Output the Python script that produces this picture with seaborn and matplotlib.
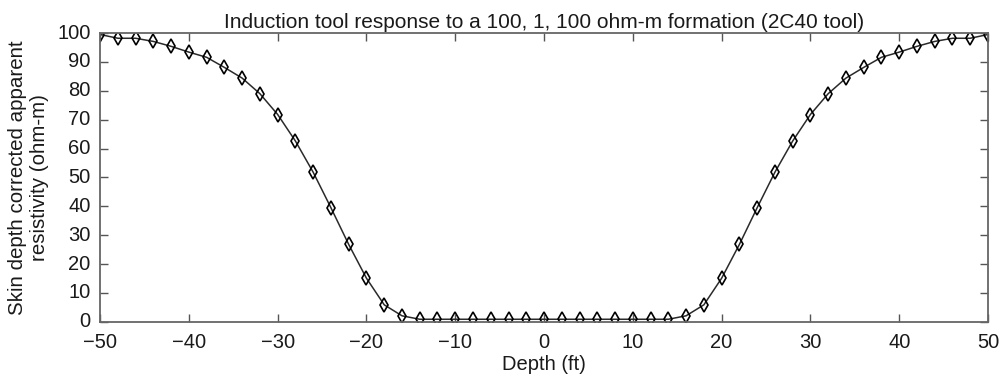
import matplotlib
matplotlib.use("Agg")
import matplotlib.pyplot as plt
import matplotlib.transforms as mtransforms
import numpy as np
import pandas as pd
import seaborn as sns

# depth samples every 2 ft
depth = [-50, -48, -46, -44, -42, -40, -38, -36, -34, -32, -30, -28, -26, -24, -22,
         -20, -18, -16, -14, -12, -10, -8, -6, -4, -2, 0, 2, 4, 6, 8, 10, 12, 14,
         16, 18, 20, 22, 24, 26, 28, 30, 32, 34, 36, 38, 40, 42, 44, 46, 48, 50]
resistivity = [99.5, 98.2, 98.2, 97.1, 95.4, 93.4, 91.6, 88.1, 84.4, 79.0, 71.8, 62.6,
               51.8, 39.5, 26.8, 15.1, 5.9, 2.1, 0.9, 0.9, 0.9, 0.9, 0.9, 0.9, 0.9,
               0.9, 0.9, 0.9, 0.9, 0.9, 0.9, 0.9, 0.9, 2.1, 5.9, 15.1, 26.8, 39.5,
               51.8, 62.6, 71.8, 79.0, 84.4, 88.1, 91.6, 93.4, 95.4, 97.1, 98.2, 98.2, 99.5]
xticks = [-50, -40, -30, -20, -10, 0, 10, 20, 30, 40, 50]
yticks = [0, 10, 20, 30, 40, 50, 60, 70, 80, 90, 100]

df = pd.DataFrame({"depth": depth, "res": resistivity})

sns.set_style("ticks")
plt.rcParams["font.family"] = ["Liberation Sans", "DejaVu Sans"]

fig, ax = plt.subplots(figsize=(10.01, 3.8), dpi=100)
sns.lineplot(data=df, x="depth", y="res", ax=ax, color="#2a2a2a", linewidth=1.1,
             marker="d", markersize=7, markerfacecolor="none",
             markeredgecolor="black", markeredgewidth=1.2)

ax.set_xlim(-50, 50)
ax.set_ylim(0, 100)
ax.set_xticks(xticks)
ax.set_yticks(yticks)
ax.tick_params(direction="in", top=True, right=True, labelsize=14.5, length=6,
               color="#555555", width=1, labelcolor="#1a1a1a")
ax.tick_params(axis="y", pad=7)
ax.tick_params(axis="x", pad=8)
for s in ax.spines.values():
    s.set_visible(True)
    s.set_color("#666666")
    s.set_linewidth(1.3)

# nudge y tick labels up a touch so "0" clears "-50"
shift = mtransforms.ScaledTranslation(0, 2 / 100, fig.dpi_scale_trans)
for lab in ax.get_yticklabels():
    lab.set_transform(lab.get_transform() + shift)

ax.set_title("Induction tool response to a 100, 1, 100 ohm-m formation (2C40 tool)",
             fontsize=15, pad=4, color="#1a1a1a")
ax.set_xlabel("Depth (ft)", fontsize=14.5, labelpad=2, color="#1a1a1a")
ax.set_ylabel("Skin depth corrected apparent\nresistivity (ohm-m)", fontsize=14.8,
              labelpad=6, color="#1a1a1a", linespacing=1.15)

fig.subplots_adjust(left=0.1, right=0.987, top=0.913, bottom=0.153)
fig.savefig("out.png", dpi=100)
